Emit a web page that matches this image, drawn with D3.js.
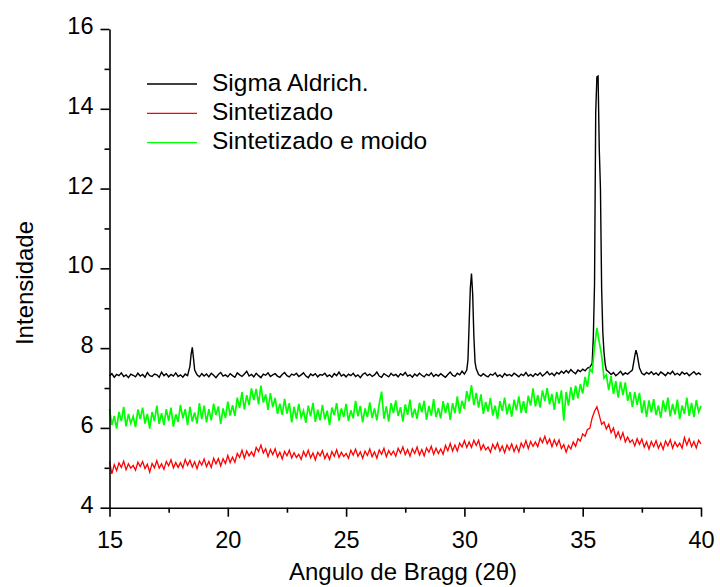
<!DOCTYPE html>
<html>
<head>
<meta charset="utf-8">
<script src="https://cdn.jsdelivr.net/npm/d3@7"></script>
<style>
  body { margin: 0; background: #fff; }
  svg { display: block; font-family: "Liberation Sans", Arial, sans-serif; }
</style>
</head>
<body>
<div id="xrd"></div>
<script>
// 2-theta grid shared by the three patterns (15.0 .. 40.0, step 0.1)
var twoTheta = d3.range(150, 401).map(function(d) { return d / 10; });

// Sigma Aldrich. (one row per degree)
var sigmaAldrich = [
  7.30, 7.36, 7.27, 7.34, 7.31, 7.38, 7.29, 7.33, 7.26, 7.35, // 15
  7.32, 7.28, 7.37, 7.30, 7.34, 7.27, 7.39, 7.31, 7.29, 7.35, // 16
  7.33, 7.27, 7.40, 7.31, 7.36, 7.28, 7.34, 7.30, 7.38, 7.29, // 17
  7.33, 7.27, 7.35, 7.31, 7.55, 8.02, 7.45, 7.33, 7.28, 7.36, // 18
  7.30, 7.35, 7.28, 7.37, 7.32, 7.26, 7.34, 7.39, 7.30, 7.33, // 19
  7.28, 7.36, 7.31, 7.27, 7.38, 7.33, 7.29, 7.35, 7.42, 7.30, // 20
  7.34, 7.28, 7.37, 7.31, 7.26, 7.35, 7.32, 7.38, 7.29, 7.33, // 21
  7.36, 7.30, 7.27, 7.34, 7.39, 7.31, 7.28, 7.35, 7.32, 7.37, // 22
  7.29, 7.33, 7.38, 7.30, 7.26, 7.35, 7.31, 7.36, 7.28, 7.34, // 23
  7.32, 7.37, 7.29, 7.33, 7.27, 7.36, 7.31, 7.40, 7.30, 7.34, // 24
  7.28, 7.35, 7.31, 7.37, 7.29, 7.33, 7.26, 7.34, 7.38, 7.31, // 25
  7.35, 7.29, 7.33, 7.40, 7.30, 7.27, 7.36, 7.32, 7.28, 7.37, // 26
  7.31, 7.34, 7.28, 7.36, 7.32, 7.39, 7.30, 7.33, 7.27, 7.35, // 27
  7.30, 7.37, 7.32, 7.28, 7.35, 7.31, 7.38, 7.29, 7.34, 7.30, // 28
  7.36, 7.31, 7.27, 7.34, 7.40, 7.32, 7.29, 7.37, 7.33, 7.42, // 29
  7.35, 7.45, 8.60, 9.87, 8.30, 7.48, 7.34, 7.30, 7.36, 7.31, // 30
  7.28, 7.35, 7.32, 7.38, 7.29, 7.33, 7.27, 7.36, 7.31, 7.34, // 31
  7.30, 7.37, 7.33, 7.28, 7.35, 7.31, 7.39, 7.30, 7.34, 7.29, // 32
  7.36, 7.32, 7.38, 7.30, 7.35, 7.41, 7.33, 7.37, 7.31, 7.39, // 33
  7.35, 7.42, 7.37, 7.44, 7.38, 7.46, 7.40, 7.36, 7.45, 7.41, // 34
  7.47, 7.43, 7.50, 7.52, 7.62, 9.60, 14.80, 13.00, 9.50, 7.90, // 35
  7.45, 7.40, 7.34, 7.39, 7.31, 7.36, 7.42, 7.33, 7.38, 7.35, // 36
  7.40, 7.45, 7.80, 7.85, 7.50, 7.37, 7.33, 7.39, 7.35, 7.41, // 37
  7.34, 7.38, 7.32, 7.40, 7.36, 7.31, 7.39, 7.35, 7.42, 7.33, // 38
  7.37, 7.32, 7.40, 7.35, 7.38, 7.31, 7.36, 7.41, 7.34, 7.38, // 39
  7.33                                                        // 40
];

// extra readings on the sharp Sigma peaks [2theta, intensity]
var sigmaPeakDetail = [
  [18.45, 7.85], [18.55, 7.75],
  [30.15, 7.70], [30.25, 9.50], [30.35, 9.35], [30.45, 7.65],
  [35.45, 8.30], [35.55, 13.90], [35.65, 14.82], [35.75, 12.00], [35.85, 8.40], [35.95, 7.60],
  [37.25, 7.95]
];

// Sintetizado
var sintetizado = [
  5.17, 4.85, 5.08, 4.93, 5.12, 5.01, 5.17, 4.95, 5.10, 4.99, // 15
  5.06, 4.94, 5.14, 5.03, 5.16, 4.98, 5.09, 4.89, 5.11, 5.00, // 16
  5.18, 4.99, 5.10, 4.96, 5.16, 5.05, 5.20, 5.00, 5.13, 5.01, // 17
  5.13, 5.00, 5.21, 5.06, 5.19, 5.02, 5.15, 4.98, 5.17, 5.07, // 18
  5.22, 5.03, 5.16, 5.01, 5.24, 5.10, 5.23, 5.05, 5.23, 5.11, // 19
  5.31, 5.13, 5.27, 5.14, 5.36, 5.26, 5.44, 5.24, 5.42, 5.30, // 20
  5.40, 5.29, 5.51, 5.41, 5.57, 5.37, 5.48, 5.28, 5.46, 5.33, // 21
  5.48, 5.27, 5.39, 5.22, 5.41, 5.30, 5.44, 5.25, 5.38, 5.26, // 22
  5.34, 5.21, 5.41, 5.28, 5.44, 5.25, 5.37, 5.20, 5.39, 5.30, // 23
  5.43, 5.23, 5.36, 5.21, 5.41, 5.29, 5.45, 5.26, 5.39, 5.28, // 24
  5.36, 5.24, 5.44, 5.32, 5.47, 5.29, 5.40, 5.24, 5.42, 5.31, // 25
  5.47, 5.28, 5.40, 5.24, 5.45, 5.34, 5.49, 5.28, 5.43, 5.32, // 26
  5.42, 5.29, 5.49, 5.37, 5.52, 5.33, 5.46, 5.29, 5.48, 5.36, // 27
  5.52, 5.32, 5.46, 5.30, 5.50, 5.39, 5.54, 5.34, 5.49, 5.36, // 28
  5.47, 5.34, 5.56, 5.43, 5.61, 5.42, 5.57, 5.42, 5.62, 5.52, // 29
  5.68, 5.51, 5.65, 5.51, 5.69, 5.56, 5.69, 5.45, 5.58, 5.45, // 30
  5.52, 5.39, 5.59, 5.47, 5.62, 5.42, 5.55, 5.38, 5.57, 5.45, // 31
  5.60, 5.41, 5.56, 5.40, 5.62, 5.51, 5.68, 5.48, 5.66, 5.54, // 32
  5.65, 5.53, 5.74, 5.63, 5.79, 5.60, 5.72, 5.53, 5.70, 5.56, // 33
  5.70, 5.48, 5.58, 5.39, 5.56, 5.47, 5.65, 5.54, 5.73, 5.67, // 34
  5.85, 5.79, 5.96, 5.99, 6.25, 6.42, 6.53, 6.32, 6.09, 6.15, // 35
  5.97, 6.09, 5.88, 6.00, 5.76, 5.90, 5.72, 5.88, 5.65, 5.77, // 36
  5.64, 5.70, 5.55, 5.73, 5.59, 5.72, 5.52, 5.65, 5.47, 5.66, // 37
  5.53, 5.68, 5.49, 5.62, 5.46, 5.67, 5.55, 5.70, 5.49, 5.65, // 38
  5.53, 5.62, 5.49, 5.76, 5.57, 5.73, 5.53, 5.66, 5.50, 5.69, // 39
  5.60                                                        // 40
];

// Sintetizado e moido
var sintetizadoMoido = [
  6.47, 6.07, 6.30, 5.98, 6.40, 6.17, 6.53, 6.04, 6.35, 6.11, // 15
  6.29, 6.02, 6.46, 6.22, 6.51, 6.11, 6.35, 5.98, 6.40, 6.17, // 16
  6.56, 6.10, 6.37, 6.07, 6.47, 6.18, 6.51, 6.03, 6.34, 6.15, // 17
  6.58, 6.24, 6.47, 6.07, 6.53, 6.16, 6.39, 6.11, 6.62, 6.22, // 18
  6.56, 6.14, 6.47, 6.19, 6.61, 6.32, 6.54, 6.10, 6.49, 6.25, // 19
  6.66, 6.31, 6.57, 6.30, 6.76, 6.50, 6.90, 6.46, 6.82, 6.57, // 20
  6.99, 6.70, 6.98, 6.59, 7.06, 6.64, 6.84, 6.45, 6.87, 6.52, // 21
  6.75, 6.35, 6.61, 6.33, 6.73, 6.36, 6.62, 6.14, 6.53, 6.23, // 22
  6.60, 6.26, 6.43, 6.13, 6.56, 6.29, 6.63, 6.15, 6.46, 6.19, // 23
  6.58, 6.21, 6.43, 6.07, 6.51, 6.32, 6.62, 6.18, 6.49, 6.27, // 24
  6.60, 6.17, 6.44, 6.24, 6.68, 6.29, 6.55, 6.14, 6.49, 6.27, // 25
  6.64, 6.25, 6.49, 6.19, 6.60, 6.91, 6.23, 6.54, 6.16, 6.62, // 26
  6.37, 6.69, 6.30, 6.52, 6.16, 6.59, 6.33, 6.71, 6.26, 6.48, // 27
  6.23, 6.63, 6.39, 6.68, 6.20, 6.55, 6.31, 6.72, 6.27, 6.50, // 28
  6.24, 6.67, 6.37, 6.63, 6.20, 6.62, 6.37, 6.79, 6.36, 6.68, // 29
  6.48, 6.92, 6.67, 7.07, 6.57, 6.88, 6.51, 6.84, 6.35, 6.65, // 30
  6.41, 6.75, 6.31, 6.56, 6.22, 6.67, 6.43, 6.76, 6.34, 6.61, // 31
  6.28, 6.71, 6.44, 6.79, 6.38, 6.67, 6.37, 6.81, 6.56, 6.99, // 32
  6.54, 6.82, 6.51, 6.94, 6.67, 7.00, 6.59, 6.85, 6.45, 6.90, // 33
  6.61, 6.94, 6.18, 6.90, 6.56, 7.02, 6.70, 7.06, 6.74, 7.10, // 34
  6.86, 7.28, 7.03, 7.48, 7.40, 8.05, 8.50, 8.15, 7.82, 7.25, // 35
  7.33, 6.95, 7.30, 6.85, 7.17, 6.76, 7.16, 6.82, 7.14, 6.68, // 36
  6.90, 6.52, 6.90, 6.58, 6.88, 6.37, 6.69, 6.27, 6.69, 6.39, // 37
  6.72, 6.32, 6.56, 6.25, 6.69, 6.40, 6.76, 6.29, 6.60, 6.34, // 38
  6.71, 6.22, 6.56, 6.35, 6.76, 6.30, 6.63, 6.27, 6.70, 6.40, // 39
  6.55                                                        // 40
];

var seriesNames = ["Sigma Aldrich.", "Sintetizado", "Sintetizado e moido"];
var seriesColors = ["#000000", "#ff0000", "#00ff00"];

var xTicks = [15, 20, 25, 30, 35, 40];
var xMinorTicks = [17.5, 22.5, 27.5, 32.5, 37.5];
var yTicks = [4, 6, 8, 10, 12, 14, 16];
var yMinorTicks = [5, 7, 9, 11, 13, 15];

function init() {
  var w = 720;
  var h = 587;
  var tickFont = 23.5;
  var titleFont = 24;
  var legendFont = 24.5;

  var x = d3.scaleLinear().domain([15, 40]).range([109.5, 701]);
  var y = d3.scaleLinear().domain([4, 16]).range([507.7, 29]);

  var svg = d3.select("#xrd")
    .append("svg")
    .attr("width", w)
    .attr("height", h);

  svg.append("rect")
    .attr("width", w)
    .attr("height", h)
    .attr("fill", "#fff");

  // pair each pattern with the 2theta grid
  function toPoints(values, extra) {
    var pts = twoTheta.map(function(a, i) { return [a, values[i]]; });
    if (extra) pts = pts.concat(extra);
    return pts.sort(function(a, b) { return a[0] - b[0]; });
  }

  var series = [
    { name: seriesNames[0], color: seriesColors[0], width: 1.4, points: toPoints(sigmaAldrich, sigmaPeakDetail) },
    { name: seriesNames[1], color: seriesColors[1], width: 1.3, points: toPoints(sintetizado) },
    { name: seriesNames[2], color: seriesColors[2], width: 1.7, points: toPoints(sintetizadoMoido) }
  ];

  var line = d3.line()
    .x(function(d) { return x(d[0]); })
    .y(function(d) { return y(d[1]); });

  svg.selectAll("path.pattern")
    .data(series)
    .enter()
    .append("path")
    .attr("class", "pattern")
    .attr("fill", "none")
    .attr("stroke", function(d) { return d.color; })
    .attr("stroke-width", function(d) { return d.width; })
    .attr("stroke-linejoin", "miter")
    .attr("d", function(d) { return line(d.points); });

  // axes: major ticks with labels, minor ticks without
  svg.append("g")
    .attr("transform", "translate(0," + y(4) + ")")
    .call(d3.axisBottom(x).tickValues(xTicks).tickSize(9).tickSizeOuter(0).tickPadding(15));
  svg.append("g")
    .attr("transform", "translate(0," + y(4) + ")")
    .call(d3.axisBottom(x).tickValues(xMinorTicks).tickSize(5).tickSizeOuter(0).tickFormat(""))
    .select(".domain").remove();

  var yAxis = svg.append("g")
    .attr("transform", "translate(" + x(15) + ",0)")
    .call(d3.axisLeft(y).tickValues(yTicks).tickSize(9).tickSizeOuter(0).tickPadding(7));
  svg.append("g")
    .attr("transform", "translate(" + x(15) + ",0)")
    .call(d3.axisLeft(y).tickValues(yMinorTicks).tickSize(5).tickSizeOuter(0).tickFormat(""))
    .select(".domain").remove();

  svg.selectAll(".domain, .tick line")
    .attr("stroke", "#000")
    .attr("stroke-width", 1.6);

  svg.selectAll(".tick text")
    .attr("fill", "#000")
    .style("font-family", "'Liberation Sans', Arial, sans-serif")
    .style("font-size", tickFont + "px");
  yAxis.selectAll(".tick text").attr("y", -3);

  // axis titles
  svg.append("text")
    .attr("x", 403)
    .attr("y", 580)
    .attr("text-anchor", "middle")
    .style("font-size", titleFont + "px")
    .text("Angulo de Bragg (2\u03b8)");

  svg.append("text")
    .attr("transform", "translate(33,283) rotate(-90)")
    .attr("text-anchor", "middle")
    .style("font-size", titleFont + "px")
    .text("Intensidade");

  // legend
  var legendY = d3.scalePoint().domain(seriesNames).range([84, 142.7]);
  var legend = svg.append("g").attr("class", "legend");
  var rows = legend.selectAll("g")
    .data(series)
    .enter()
    .append("g")
    .attr("transform", function(d) { return "translate(0," + legendY(d.name) + ")"; });
  rows.append("line")
    .attr("x1", 147)
    .attr("x2", 197)
    .attr("stroke", function(d) { return d.color; })
    .attr("stroke-width", 1.3);
  rows.append("text")
    .attr("x", 212)
    .attr("y", 6.5)
    .style("font-size", legendFont + "px")
    .text(function(d) { return d.name; });
}

window.onload = init;
</script>
</body>
</html>
